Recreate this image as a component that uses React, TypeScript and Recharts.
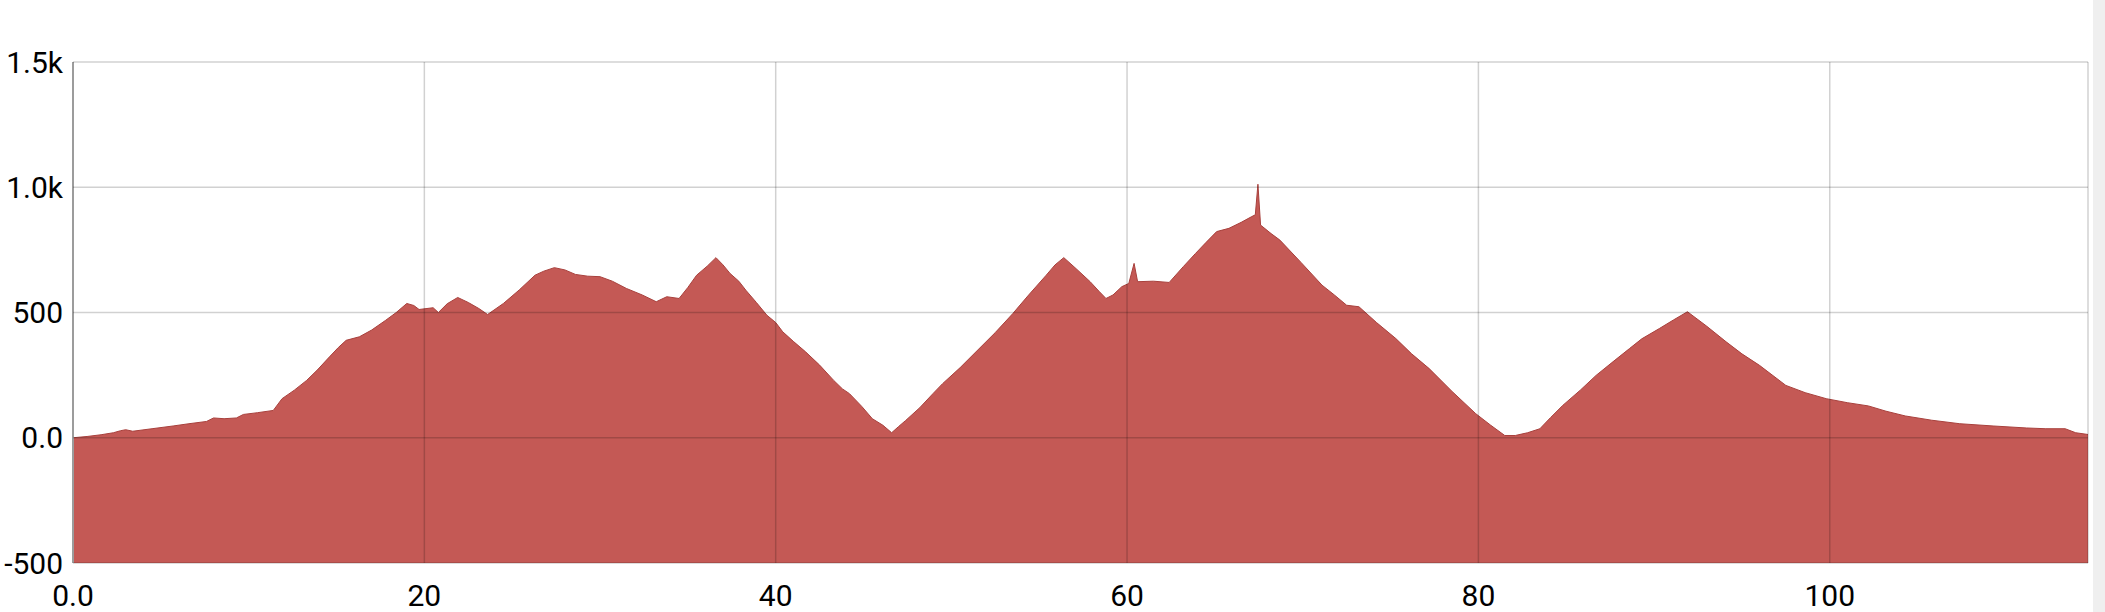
import { AreaChart, Area, XAxis, YAxis, CartesianGrid } from "recharts";

// distance (km) along the route
const distanceKm = [
  0, 0.8, 1.6, 2.3, 2.7, 3.0, 3.4, 4.5, 5.7, 6.6, 7.6, 8.0, 8.6, 9.3, 9.7, 10.5, 11.4, 11.9, 12.6, 13.3,
  13.9, 14.6, 15.1, 15.55, 16.3, 17.0, 17.8, 18.4, 19.0, 19.4, 19.7, 20.5, 20.8, 21.3, 21.9, 22.5, 23.1, 23.6, 24.5, 25.4,
  26.3, 26.8, 27.4, 28.0, 28.6, 29.3, 30.0, 30.7, 31.5, 32.4, 33.2, 33.8, 34.5, 35.0, 35.5, 36.1, 36.6, 37.0, 37.4, 37.9,
  38.3, 38.9, 39.5, 40.0, 40.4, 41.0, 41.7, 42.5, 43.3, 43.8, 44.2, 44.9, 45.5, 46.1, 46.6, 47.0, 47.4, 48.2, 48.95, 49.5,
  50.5, 51.4, 52.5, 53.5, 54.4, 55.4, 55.9, 56.4, 57.1, 57.9, 58.4, 58.8, 59.2, 59.7, 60.1, 60.4, 60.6, 61.5, 62.4, 63.2,
  63.9, 64.5, 65.1, 65.8, 66.5, 67.1, 67.3, 67.45, 67.6, 68.2, 68.7, 69.9, 71.1, 71.8, 72.5, 73.2, 74.2, 75.3, 76.2, 77.2,
  78.5, 79.85, 80.7, 81.5, 82.1, 82.8, 83.5, 84.1, 84.8, 85.8, 86.7, 87.6, 88.6, 89.3, 90.3, 91.1, 91.9, 93.0, 94.1, 95.0,
  96.0, 97.5, 98.6, 99.8, 101.0, 102.2, 103.2, 104.3, 105.8, 107.4, 109.3, 111.2, 112.3, 113.4, 114.0, 114.7,
];

// elevation (m) at each distance
const elevationM = [
  0, 5, 12, 20, 28, 32, 26, 36, 47, 56, 65, 79, 76, 79, 93, 100, 109, 156, 190, 229,
  270, 323, 360, 389, 403, 430, 469, 500, 536, 528, 512, 519, 500, 535, 560, 540, 516, 492, 536, 590,
  649, 665, 679, 670, 652, 645, 643, 625, 596, 570, 543, 563, 556, 600, 649, 685, 719, 690, 656, 625,
  589, 540, 489, 460, 423, 385, 343, 290, 229, 195, 176, 125, 76, 50, 20, 45, 69, 120, 176, 216,
  280, 343, 420, 496, 570, 649, 690, 719, 675, 623, 585, 556, 570, 603, 616, 696, 623, 625, 620, 683,
  736, 780, 823, 836, 860, 883, 890, 1012, 849, 815, 789, 700, 609, 570, 529, 523, 460, 396, 335, 276,
  185, 96, 50, 9, 9, 20, 36, 80, 129, 190, 249, 300, 356, 395, 436, 470, 503, 445, 383, 335,
  289, 209, 180, 156, 140, 127, 106, 87, 70, 56, 47, 39, 36, 36, 20, 13,
];

const xTicks = [0, 20, 40, 60, 80, 100];
const yTicks = [-500, 0, 500, 1000, 1500];

const data = distanceKm.map((d, i) => ({ dist: d, ele: elevationM[i] }));

const fmtX = (v: number) => (v === 0 ? "0.0" : String(v));
const fmtY = (v: number) =>
  Math.abs(v) >= 1000 ? (v / 1000).toFixed(1) + "k" : v === 0 ? "0.0" : String(v);

const tickStyle = { fontSize: 30, fill: "#000", fontFamily: "Roboto" };

export default function App() {
  return (
    <div style={{ position: "absolute", left: 0, top: 0, width: 2105, height: 612, background: "#fff" }}>
      <AreaChart width={2093} height={612} data={data} margin={{ top: 62, right: 5, left: 0, bottom: 0 }}>
        <XAxis
          dataKey="dist"
          type="number"
          domain={[0, "dataMax"]}
          ticks={xTicks}
          tickFormatter={fmtX}
          tick={tickStyle}
          axisLine={false}
          tickLine={false}
          tickSize={6}
          tickMargin={16}
          height={49}
        />
        <YAxis
          type="number"
          domain={[-500, 1500]}
          ticks={yTicks}
          tickFormatter={fmtY}
          tick={tickStyle}
          axisLine={{ stroke: "#b5b5b5", strokeWidth: 2 }}
          tickLine={false}
          tickSize={6}
          tickMargin={4}
          width={73}
        />
        <Area
          type="linear"
          dataKey="ele"
          baseValue={-500}
          stroke="#a8403c"
          strokeWidth={1}
          fill="#c45955"
          fillOpacity={1}
          isAnimationActive={false}
        />
        {/* grid sits above the fill, as in the original */}
        <CartesianGrid stroke="rgba(0,0,0,0.18)" strokeWidth={1.5} zIndex={500} />
      </AreaChart>
      <div style={{ position: "absolute", left: 2093, top: 0, width: 12, height: 612, background: "#efefef" }} />
    </div>
  );
}
